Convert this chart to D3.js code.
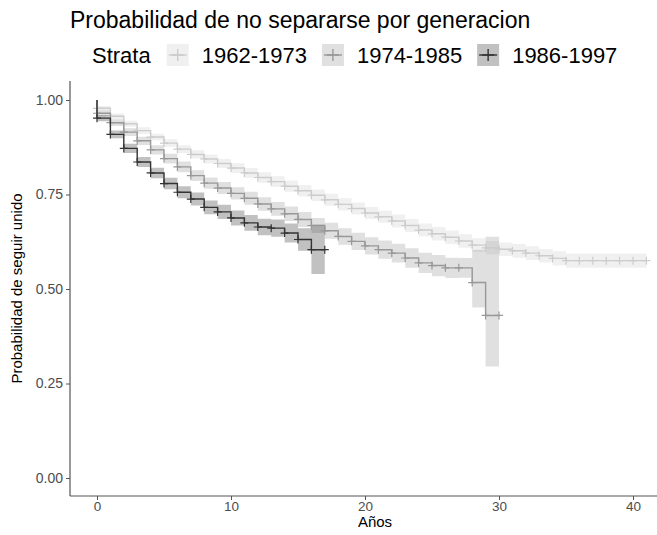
<!DOCTYPE html>
<html><head><meta charset="utf-8">
<script src="https://cdn.jsdelivr.net/npm/d3@7"></script>
<style>body{margin:0;background:#fff}svg text{font-family:"Liberation Sans",Arial,sans-serif}</style>
</head><body><svg id="c" width="657" height="535"></svg>
<script>
const strata = ["1962-1973", "1974-1985", "1986-1997"];
const lineColors = ["#CCCCCC", "#989898", "#333333"];

const time1 = [0,1,2,3,4,5,6,7,8,9,10,11,12,13,14,15,16,17,18,19,20,21,22,23,24,25,26,27,28,29,30,31,32,33,34,35,36,37,38,39,40,41];
const surv1 = [0.978,0.957,0.937,0.919,0.902,0.886,0.870,0.856,0.844,0.832,0.820,0.807,0.795,0.784,0.772,0.760,0.748,0.736,0.724,0.713,0.701,0.691,0.680,0.668,0.656,0.646,0.637,0.627,0.616,0.609,0.605,0.601,0.595,0.588,0.581,0.575,0.575,0.575,0.575,0.575,0.575,0.575];
const lower1 = [0.972,0.950,0.929,0.910,0.893,0.876,0.860,0.845,0.832,0.820,0.807,0.794,0.781,0.770,0.757,0.745,0.733,0.720,0.708,0.697,0.685,0.675,0.663,0.651,0.639,0.628,0.619,0.609,0.598,0.591,0.587,0.583,0.577,0.570,0.562,0.556,0.556,0.556,0.556,0.556,0.556,0.556];
const upper1 = [0.984,0.964,0.945,0.928,0.911,0.896,0.880,0.867,0.856,0.844,0.833,0.820,0.809,0.798,0.787,0.775,0.763,0.752,0.740,0.729,0.717,0.707,0.697,0.685,0.673,0.664,0.655,0.645,0.634,0.627,0.623,0.619,0.613,0.606,0.600,0.594,0.594,0.594,0.594,0.594,0.594,0.594];

const time2 = [0,1,2,3,4,5,6,7,8,9,10,11,12,13,14,15,16,17,18,19,20,21,22,23,24,25,26,27,28,29,30];
const surv2 = [0.965,0.940,0.915,0.892,0.868,0.845,0.823,0.800,0.780,0.767,0.753,0.740,0.725,0.712,0.699,0.684,0.668,0.654,0.639,0.626,0.614,0.604,0.595,0.582,0.569,0.562,0.556,0.556,0.517,0.430,0.430];
const lower2 = [0.957,0.931,0.905,0.881,0.856,0.832,0.809,0.786,0.765,0.751,0.737,0.723,0.707,0.694,0.680,0.664,0.648,0.633,0.617,0.603,0.591,0.580,0.570,0.556,0.542,0.534,0.529,0.530,0.451,0.295,0.295];
const upper2 = [0.973,0.949,0.925,0.903,0.880,0.858,0.837,0.814,0.795,0.783,0.769,0.757,0.743,0.730,0.718,0.704,0.688,0.675,0.661,0.649,0.637,0.628,0.620,0.608,0.596,0.590,0.583,0.582,0.604,0.638,0.638];

const time3 = [0,1,2,3,4,5,6,7,8,9,10,11,12,13,14,15,16,17];
const surv3 = [0.952,0.909,0.872,0.836,0.807,0.779,0.756,0.738,0.716,0.704,0.688,0.675,0.664,0.661,0.648,0.631,0.604,0.604];
const lower3 = [0.944,0.899,0.860,0.823,0.793,0.764,0.740,0.721,0.698,0.685,0.668,0.654,0.642,0.638,0.623,0.601,0.540,0.540];
const upper3 = [0.960,0.919,0.884,0.849,0.821,0.794,0.772,0.755,0.734,0.723,0.708,0.696,0.686,0.684,0.673,0.661,0.670,0.670];

const xTicks = [0, 10, 20, 30, 40];
const yTicks = [0, 0.25, 0.5, 0.75, 1];
const yTickLabels = ["0.00", "0.25", "0.50", "0.75", "1.00"];

const series = [
  {name: strata[0], color: lineColors[0], time: time1, surv: surv1, lo: lower1, hi: upper1},
  {name: strata[1], color: lineColors[1], time: time2, surv: surv2, lo: lower2, hi: upper2},
  {name: strata[2], color: lineColors[2], time: time3, surv: surv3, lo: lower3, hi: upper3}
];

const svg = d3.select("#c");
const P = {left: 70, right: 657, top: 81, bottom: 496};
const x = d3.scaleLinear().domain([0, 40]).range([97, 633]);
const y = d3.scaleLinear().domain([0, 1]).range([478, 100]);

svg.append("defs").append("clipPath").attr("id", "clip")
  .append("rect").attr("x", P.left).attr("y", P.top).attr("width", P.right - P.left).attr("height", P.bottom - P.top);
const g = svg.append("g").attr("clip-path", "url(#clip)");

const area = d3.area().curve(d3.curveStepAfter).x(d => x(d.t)).y0(d => y(d.lo)).y1(d => y(d.hi));
const line = d3.line().curve(d3.curveStepAfter).x(d => x(d.t)).y(d => y(d.s));

series.forEach(s => {
  const pts = [{t: 0, lo: 1, hi: 1}].concat(s.time.map((t, i) => ({t, lo: s.lo[i], hi: s.hi[i]})));
  g.append("path").attr("d", area(pts)).attr("fill", s.color).attr("fill-opacity", 0.3);
});
series.forEach(s => {
  const pts = [{t: 0, s: 1}].concat(s.time.map((t, i) => ({t, s: s.surv[i]})));
  g.append("path").attr("d", line(pts)).attr("fill", "none").attr("stroke", s.color).attr("stroke-width", 1.4);
  s.time.forEach((t, i) => {
    const cx = x(t), cy = y(s.surv[i]);
    g.append("path").attr("d", `M${cx-4},${cy}H${cx+4}M${cx},${cy-4}V${cy+4}`)
      .attr("stroke", s.color).attr("stroke-width", 1.2);
  });
});

// axes
svg.append("line").attr("x1", P.left).attr("x2", P.left).attr("y1", P.top).attr("y2", P.bottom).attr("stroke", "#555").attr("stroke-width", 1.2);
svg.append("line").attr("x1", P.left).attr("x2", P.right).attr("y1", P.bottom).attr("y2", P.bottom).attr("stroke", "#555").attr("stroke-width", 1.2);

const xa = svg.append("g").attr("transform", `translate(0,${P.bottom})`)
  .call(d3.axisBottom(x).tickValues(xTicks).tickSize(4).tickPadding(1).tickFormat(d3.format("d")));
xa.select(".domain").remove();
xa.selectAll("line").attr("stroke", "#555");
xa.selectAll("text").attr("fill", "#4d4d4d").style("font-size", "13.5px");

const ya = svg.append("g").attr("transform", `translate(${P.left},0)`)
  .call(d3.axisLeft(y).tickValues(yTicks).tickSize(4).tickPadding(3).tickFormat((d, i) => yTickLabels[i]));
ya.select(".domain").remove();
ya.selectAll("line").attr("stroke", "#555");
ya.selectAll("text").attr("fill", "#4d4d4d").style("font-size", "14px");

svg.append("text").attr("x", (P.left + 680) / 2).attr("y", 527).attr("text-anchor", "middle")
  .style("font-size", "15px").attr("fill", "#000").text("Años");
svg.append("text").attr("transform", `translate(22,${(P.top + P.bottom) / 2}) rotate(-90)`).attr("text-anchor", "middle")
  .style("font-size", "15px").attr("fill", "#000").text("Probabilidad de seguir unido");

// title
svg.append("text").attr("x", 70).attr("y", 28).style("font-size", "23px").attr("fill", "#000")
  .text("Probabilidad de no separarse por generacion");

// legend
const lg = svg.append("g").attr("transform", "translate(0,55)");
const st = lg.append("text").attr("x", 92).attr("y", 0).attr("dy", "0.35em").style("font-size", "22px").text("Strata");
let lx = 92 + st.node().getComputedTextLength() + 16;
series.forEach(s => {
  lg.append("rect").attr("x", lx).attr("y", -11).attr("width", 22).attr("height", 22).attr("fill", s.color).attr("fill-opacity", 0.3);
  lg.append("path").attr("d", `M${lx+2},0H${lx+20}`).attr("stroke", s.color).attr("stroke-width", 1.4);
  lg.append("path").attr("d", `M${lx+5},0H${lx+17}M${lx+11},-6V6`).attr("stroke", s.color).attr("stroke-width", 1.4);
  const t = lg.append("text").attr("x", lx + 35).attr("y", 0).attr("dy", "0.35em").style("font-size", "22px").text(s.name);
  lx += 35 + t.node().getComputedTextLength() + 15;
});
</script></body></html>
